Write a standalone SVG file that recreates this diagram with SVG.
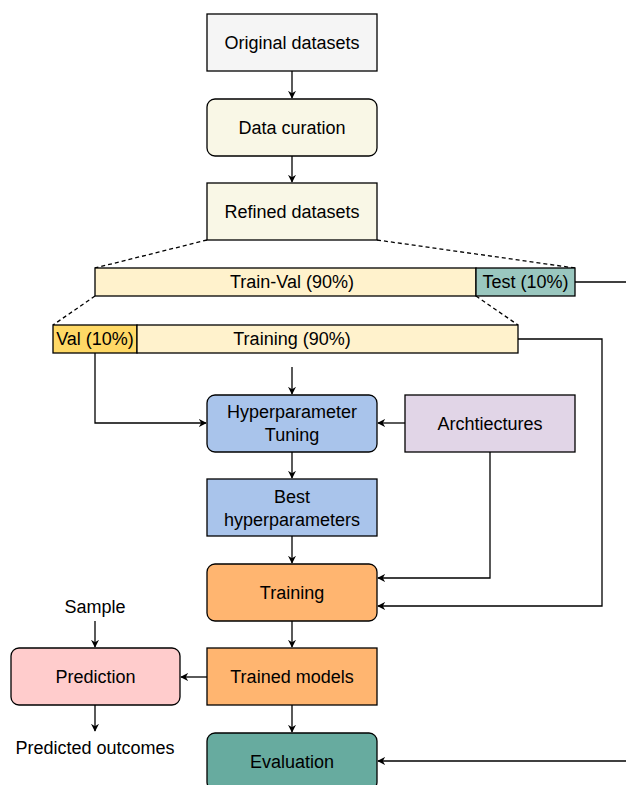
<svg xmlns="http://www.w3.org/2000/svg" width="626" height="785" viewBox="0 0 626 785">
<style>
.n{stroke:#000;stroke-width:1.3}
.t{font-family:"Liberation Sans",Arial,sans-serif;font-size:18px;fill:#000;text-anchor:middle}
.c{fill:none;stroke:#000;stroke-width:1.3}
.d{fill:none;stroke:#000;stroke-width:1.3;stroke-dasharray:4 3}
</style>
<defs>
<marker id="a" viewBox="0 0 10 10" refX="9" refY="5" markerWidth="8" markerHeight="8" markerUnits="userSpaceOnUse" orient="auto">
<path d="M0,0 L10,5 L0,10 L3,5 Z" fill="#000"/>
</marker>
</defs>
<rect width="626" height="785" fill="#fff"/>
<g id="connectors">
<path class="c" d="M292,71 V98" marker-end="url(#a)"/>
<path class="c" d="M292,156 V182" marker-end="url(#a)"/>
<path class="d" d="M207,240 L95,268"/>
<path class="d" d="M377,240 L575,268"/>
<path class="d" d="M95,296 L53,325"/>
<path class="d" d="M476,296 L518,325"/>
<path class="c" d="M575,282 H626"/>
<path class="c" d="M518,339 H602 V606 H378" marker-end="url(#a)"/>
<path class="c" d="M95,353 V423 H206" marker-end="url(#a)"/>
<path class="c" d="M292,367 V394" marker-end="url(#a)"/>
<path class="c" d="M405,423 H378" marker-end="url(#a)"/>
<path class="c" d="M490,452 V578 H378" marker-end="url(#a)"/>
<path class="c" d="M292,452 V478" marker-end="url(#a)"/>
<path class="c" d="M292,536 V563" marker-end="url(#a)"/>
<path class="c" d="M292,621 V647" marker-end="url(#a)"/>
<path class="c" d="M207,677 H181" marker-end="url(#a)"/>
<path class="c" d="M95,621 V647" marker-end="url(#a)"/>
<path class="c" d="M95,705 V731" marker-end="url(#a)"/>
<path class="c" d="M292,705 V732" marker-end="url(#a)"/>
<path class="c" d="M626,761 H378" marker-end="url(#a)"/>
</g>
<g id="original"><rect class="n" x="207" y="14" width="170" height="57" fill="#f5f5f5"/><text class="t" x="292" y="49">Original datasets</text></g>
<g id="curation"><rect class="n" x="207" y="99" width="170" height="57" rx="8" fill="#f9f7e6"/><text class="t" x="292" y="134">Data curation</text></g>
<g id="refined"><rect class="n" x="207" y="183" width="170" height="57" fill="#f9f7e6"/><text class="t" x="292" y="218">Refined datasets</text></g>
<g id="trainval"><rect class="n" x="95" y="268" width="381" height="28" fill="#fff2cc"/><text class="t" x="292" y="288">Train-Val (90%)</text></g>
<g id="test"><rect class="n" x="476" y="268" width="99" height="28" fill="#9ac7bf"/><text class="t" x="525.5" y="288">Test (10%)</text></g>
<g id="val"><rect class="n" x="53" y="325" width="84" height="28" fill="#ffd966"/><text class="t" x="95" y="345">Val (10%)</text></g>
<g id="training-set"><rect class="n" x="137" y="325" width="381" height="28" fill="#fff2cc"/><text class="t" x="292" y="345">Training (90%)</text></g>
<g id="tuning"><rect class="n" x="207" y="395" width="170" height="57" rx="8" fill="#a9c4eb"/><text class="t" x="292" y="418">Hyperparameter</text><text class="t" x="292" y="441">Tuning</text></g>
<g id="arch"><rect class="n" x="405" y="395" width="170" height="57" fill="#e1d5e7"/><text class="t" x="490" y="430">Archtiectures</text></g>
<g id="best"><rect class="n" x="207" y="479" width="170" height="57" fill="#a9c4eb"/><text class="t" x="292" y="503">Best</text><text class="t" x="292" y="526">hyperparameters</text></g>
<g id="training"><rect class="n" x="207" y="564" width="170" height="57" rx="8" fill="#ffb570"/><text class="t" x="292" y="599">Training</text></g>
<g id="trained"><rect class="n" x="207" y="648" width="170" height="57" fill="#ffb570"/><text class="t" x="292" y="683">Trained models</text></g>
<g id="prediction"><rect class="n" x="11" y="648" width="169" height="57" rx="8" fill="#ffcccc"/><text class="t" x="95.5" y="683">Prediction</text></g>
<g id="sample"><text class="t" x="95" y="613">Sample</text></g>
<g id="outcomes"><text class="t" x="95" y="754">Predicted outcomes</text></g>
<g id="evaluation"><rect class="n" x="207" y="733" width="170" height="57" rx="8" fill="#67ab9f"/><text class="t" x="292" y="768">Evaluation</text></g>
</svg>
